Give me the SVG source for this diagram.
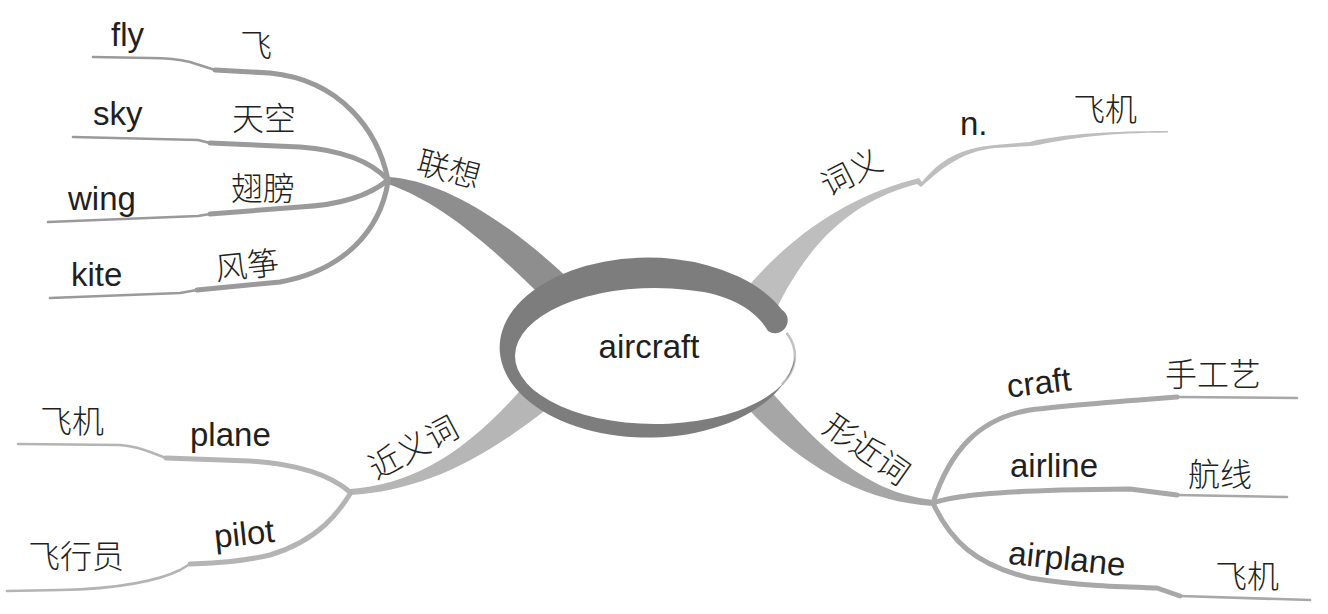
<svg xmlns="http://www.w3.org/2000/svg" width="1328" height="614" viewBox="0 0 1328 614">
<style>
.en{font-family:"Liberation Sans",Arial,sans-serif;font-size:33px;fill:#231f20}
.zh{font-family:"Noto Sans CJK SC","Noto Sans CJK JP",sans-serif;font-size:32px;font-weight:300;fill:#231f20}
.mid{text-anchor:middle}
.s{fill:none;stroke-linecap:round;stroke-linejoin:round}
.w1{stroke-width:5}
.w2{stroke-width:2.6}
.gA{stroke:#9a9a9a}
.gB{stroke:#b4b4b4}
.gC{stroke:#a8a8a8}
</style>
<rect width="1328" height="614" fill="#fff"/>
<g id="connectors">
  <!-- main branches -->
  <path id="br-lianxiang" fill="#8e8e8e" d="M 388 177 C 440 180 505 218 572 282 L 545 300 C 490 245 440 202 388 184 Z"/>
  <path id="br-ciyi" fill="#bebebe" d="M 745 290 C 800 225 860 193 919 178 L 922 182 C 940 160 960 148 995 145 L 1030 142 L 1037 140 C 1070 134 1110 131 1168 131 L 1168 132.5 C 1110 133 1075 137 1038 145 L 1031 146 L 995 148 C 965 151 945 165 921 187 L 917 184 C 865 198 815 228 775 312 Z"/>
  <path id="br-jinyici" fill="#b6b6b6" d="M 350 489 C 410 485 465 455 525 385 L 548 408 C 480 462 420 491 350 495 Z"/>
  <path id="br-xingjinci" fill="#a6a6a6" d="M 765 385 C 815 440 860 492 933 500 L 933 506 C 860 502 795 462 740 400 Z"/>
  <!-- 联想 sub-branches -->
  <path class="s w1 gA" d="M 388 180 C 378 130 340 80 270 73 L 215 70"/>
  <path class="s w2 gA" d="M 215 70 L 190 62 C 178 59 165 58 150 58 L 93 57"/>
  <path class="s w1 gA" d="M 388 180 C 370 160 340 150 300 147 L 210 143"/>
  <path class="s w2 gA" d="M 210 143 L 198 140 L 73 137"/>
  <path class="s w1 gA" d="M 388 180 C 370 195 340 205 300 207 L 210 214"/>
  <path class="s w2 gA" d="M 210 214 L 198 216 L 48 222"/>
  <path class="s w1 gA" d="M 388 182 C 380 230 345 270 280 282 L 197 290"/>
  <path class="s w2 gA" d="M 197 290 L 180 293 L 50 298"/>
  <!-- 近义词 sub-branches -->
  <path class="s w1 gB" d="M 350 492 C 330 475 300 464 250 461 L 166 458"/>
  <path class="s w2 gB" d="M 166 458 L 150 452 C 140 448 130 446 120 445 L 18 444"/>
  <path class="s w1 gB" d="M 350 494 C 340 510 320 540 270 555 C 240 562 215 563 190 564"/>
  <path class="s w2 gB" d="M 190 564 L 180 570 C 160 580 120 589 60 590 L 7 591"/>
  <!-- 形近词 sub-branches -->
  <path class="s w1 gC" d="M 933 503 C 950 450 980 418 1030 410 C 1070 405 1110 402 1177 397"/>
  <path class="s w2 gC" d="M 1177 397 L 1297 398"/>
  <path class="s w1 gC" d="M 933 503 C 955 495 1000 492 1060 490 L 1130 489 L 1177 495"/>
  <path class="s w2 gC" d="M 1177 495 L 1287 497"/>
  <path class="s w1 gC" d="M 933 503 C 950 540 975 565 1030 578 C 1080 586 1120 587 1157 588 L 1180 596"/>
  <path class="s w2 gC" d="M 1180 596 L 1310 600"/>
</g>
<g id="center">
  <ellipse cx="655" cy="356" rx="140" ry="68" fill="#fff"/>
  <path d="M 786.6 332.7 A 140 68 0 0 1 781.9 384.7" fill="none" stroke="#c2c2c2" stroke-width="2.5"/>
  <path fill="#7d7d7d" d="M 782.1 310 A 148 90 0 1 0 795 356 A 140 68 0 1 1 700 291.6 C 730 296 756 310 768 331 A 12.6 12.6 0 0 0 782.1 310 Z"/>
  <text class="en mid" x="649" y="358">aircraft</text>
</g>
<g id="lianxiang">
  <text class="zh mid" transform="translate(449 169) rotate(15)" x="0" y="12">联想</text>
</g>
<g id="fly"><text class="en" x="111" y="46">fly</text></g>
<g id="fei"><text class="zh mid" x="256" y="57">飞</text></g>
<g id="sky"><text class="en" x="93" y="125">sky</text></g>
<g id="tiankong"><text class="zh mid" x="264" y="130">天空</text></g>
<g id="wing"><text class="en" x="68" y="210">wing</text></g>
<g id="chibang"><text class="zh mid" x="263" y="200">翅膀</text></g>
<g id="kite"><text class="en" x="71" y="286">kite</text></g>
<g id="fengzheng"><text class="zh mid" transform="translate(247 265) rotate(-6)" x="0" y="12">风筝</text></g>
<g id="ciyi">
  <text class="zh mid" transform="translate(851 172) rotate(-27)" x="0" y="12">词义</text>
</g>
<g id="n"><text class="en" x="960" y="135">n.</text></g>
<g id="feiji1"><text class="zh mid" x="1105" y="121">飞机</text></g>
<g id="jinyici">
  <text class="zh mid" transform="translate(413 447) rotate(-28)" x="0" y="12">近义词</text>
</g>
<g id="plane"><text class="en" x="190" y="446">plane</text></g>
<g id="feiji2"><text class="zh mid" x="72" y="433">飞机</text></g>
<g id="pilot"><text class="en mid" transform="translate(244 533) rotate(-6)" x="0" y="12">pilot</text></g>
<g id="feixingyuan"><text class="zh mid" x="76" y="568">飞行员</text></g>
<g id="xingjinci">
  <text class="zh mid" transform="translate(867 449) rotate(35)" x="0" y="12">形近词</text>
</g>
<g id="craft"><text class="en mid" transform="translate(1039 384) rotate(-7)" x="0" y="10">craft</text></g>
<g id="shougongyi"><text class="zh mid" x="1213" y="386">手工艺</text></g>
<g id="airline"><text class="en" x="1010" y="477">airline</text></g>
<g id="hangxian"><text class="zh mid" x="1220" y="486">航线</text></g>
<g id="airplane"><text class="en mid" transform="translate(1067 560) rotate(6)" x="0" y="10">airplane</text></g>
<g id="feiji3"><text class="zh mid" x="1247" y="588">飞机</text></g>
</svg>
